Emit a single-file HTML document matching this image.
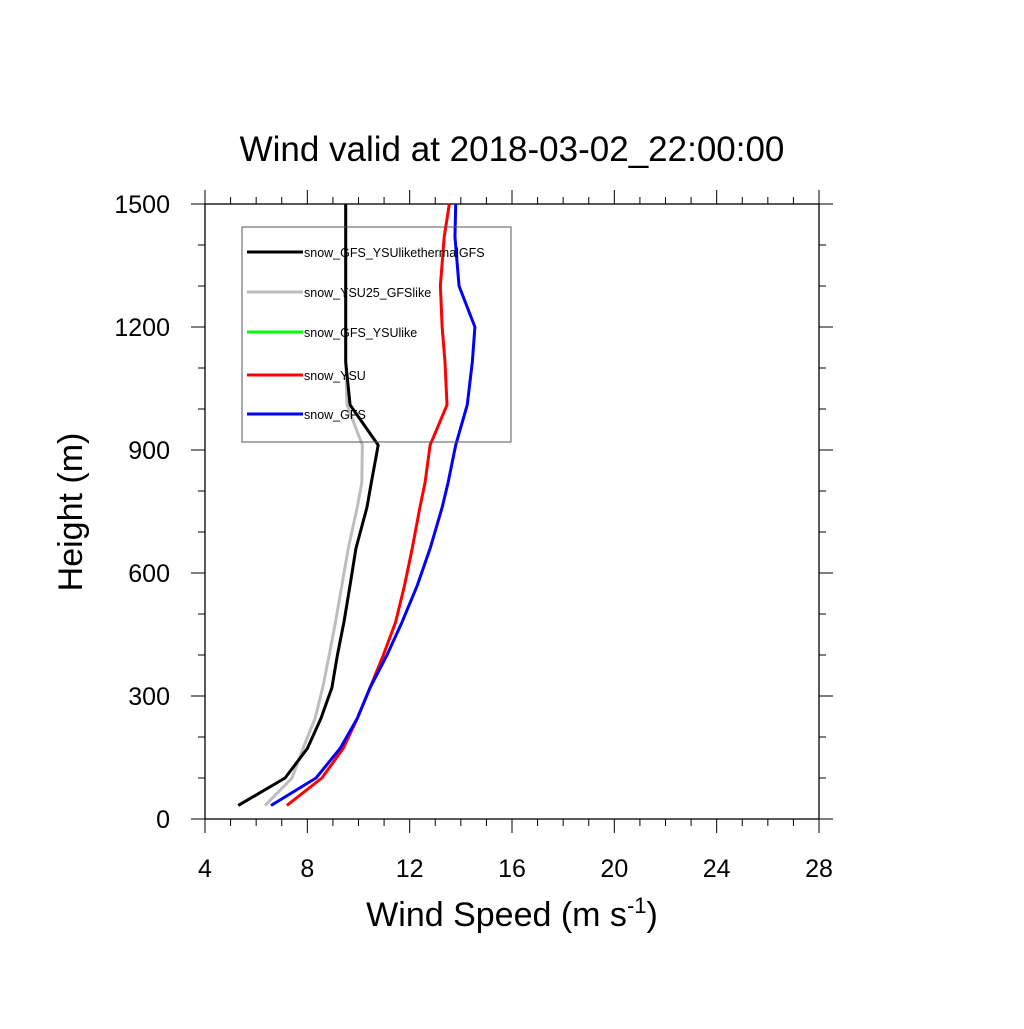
<!DOCTYPE html>
<html><head><meta charset="utf-8"><style>
html,body{margin:0;padding:0;background:#fff;}
svg text{font-family:"Liberation Sans",sans-serif;}
</style></head><body>
<svg id="chart" width="1024" height="1024" viewBox="0 0 1024 1024" xmlns="http://www.w3.org/2000/svg">
<rect width="1024" height="1024" fill="#fff"/>
<text x="512" y="161" font-size="35" text-anchor="middle">Wind valid at 2018-03-02_22:00:00</text>
<g id="axes"></g>
<g id="series"></g>
<g id="legend"></g>
<text x="512" y="926" font-size="34" text-anchor="middle">Wind Speed (m s<tspan dy="-13" font-size="22">-1</tspan><tspan dy="13">)</tspan></text>
<text transform="translate(82,512) rotate(-90)" font-size="34" text-anchor="middle">Height (m)</text>
</svg>
<script>
const heights = [33,100,172,245,320,398,480,570,660,760,820,912,1010,1115,1200,1300,1420,1500];
const blackVals = [5.3,7.13,8.0,8.53,8.96,9.17,9.43,9.67,9.9,10.33,10.5,10.77,9.67,9.5,9.5,9.5,9.5,9.5];
const greyVals = [6.35,7.4,7.83,8.3,8.6,8.85,9.1,9.35,9.6,9.95,10.13,10.15,9.55,9.5,9.5,9.5,9.5,9.5];
const greenVals = [5.3,7.13,8.0,8.53,8.96,9.17,9.43,9.67,9.9,10.33,10.5,10.77,9.67,9.5,9.5,9.5,9.5,9.5];
const redVals = [7.2,8.57,9.4,9.95,10.45,10.96,11.45,11.8,12.1,12.4,12.6,12.8,13.46,13.38,13.27,13.2,13.35,13.55];
const blueVals = [6.58,8.34,9.28,9.95,10.45,11.1,11.7,12.3,12.8,13.27,13.5,13.8,14.25,14.45,14.55,13.93,13.77,13.8];
const xTicks = [4,8,12,16,20,24,28];
const yTicks = [0,300,600,900,1200,1500];
const seriesNames = ["snow_GFS_YSUlikethermalGFS","snow_YSU25_GFSlike","snow_GFS_YSUlike","snow_YSU","snow_GFS"];
const seriesColors = ["#000","#bdbdbd","#00ff00","#ff0000","#0000ff"];

const X0=205,X1=819,Y0=819,Y1=204;
const xs=v=>X0+(v-4)/24*(X1-X0);
const ys=h=>Y0-h/1500*(Y0-Y1);
const NS="http://www.w3.org/2000/svg";
function mk(t,a,p){const e=document.createElementNS(NS,t);for(const k in a)e.setAttribute(k,a[k]);p.appendChild(e);return e;}
const axes=document.getElementById('axes');
const frame=mk('rect',{x:X0,y:Y1,width:X1-X0,height:Y0-Y1,fill:'none',stroke:'#000','stroke-width':1.3},axes);


for(let v=4;v<=28;v++){const x=xs(v);const L=(v%4===0)?14:7;
 mk('line',{x1:x,y1:Y0,x2:x,y2:Y0+L,stroke:'#000','stroke-width':1},axes);
 mk('line',{x1:x,y1:Y1,x2:x,y2:Y1-L,stroke:'#000','stroke-width':1},axes);}
for(let h=0;h<=1500;h+=100){const y=ys(h);const L=(h%300===0)?14:7;
 mk('line',{x1:X0,y1:y,x2:X0-L,y2:y,stroke:'#000','stroke-width':1},axes);
 mk('line',{x1:X1,y1:y,x2:X1+L,y2:y,stroke:'#000','stroke-width':1},axes);}
xTicks.forEach(v=>{const t=mk('text',{x:xs(v),y:Y0+58,'font-size':25,'text-anchor':'middle'},axes);t.textContent=v;
 
 });
yTicks.forEach(h=>{const t=mk('text',{x:X0-35,y:ys(h)+9,'font-size':25,'text-anchor':'end'},axes);t.textContent=h;
 
 });
const ser=document.getElementById('series');
const all=[blackVals,greyVals,greenVals,redVals,blueVals];
const order=[1,2,0,3,4];
order.forEach(i=>{const pts=all[i].map((v,j)=>xs(v)+','+ys(heights[j])).join(' ');
 const p=mk('polyline',{points:pts,fill:'none',stroke:seriesColors[i],'stroke-width':i===2?1.5:3,'stroke-linejoin':'round'},ser);
 
 });
const lg=document.getElementById('legend');
const box=mk('rect',{x:242,y:227,width:269,height:215,fill:'none',stroke:'#555','stroke-width':1},lg);


const ly=[252,292,332,375,414];
seriesNames.forEach((n,i)=>{
 const l=mk('line',{x1:247,y1:ly[i],x2:303,y2:ly[i],stroke:seriesColors[i],'stroke-width':3},lg);
 
 
 const t=mk('text',{x:304,y:ly[i]+5,'font-size':12.5},lg);t.textContent=n;
 
 });
</script>
</body></html>
